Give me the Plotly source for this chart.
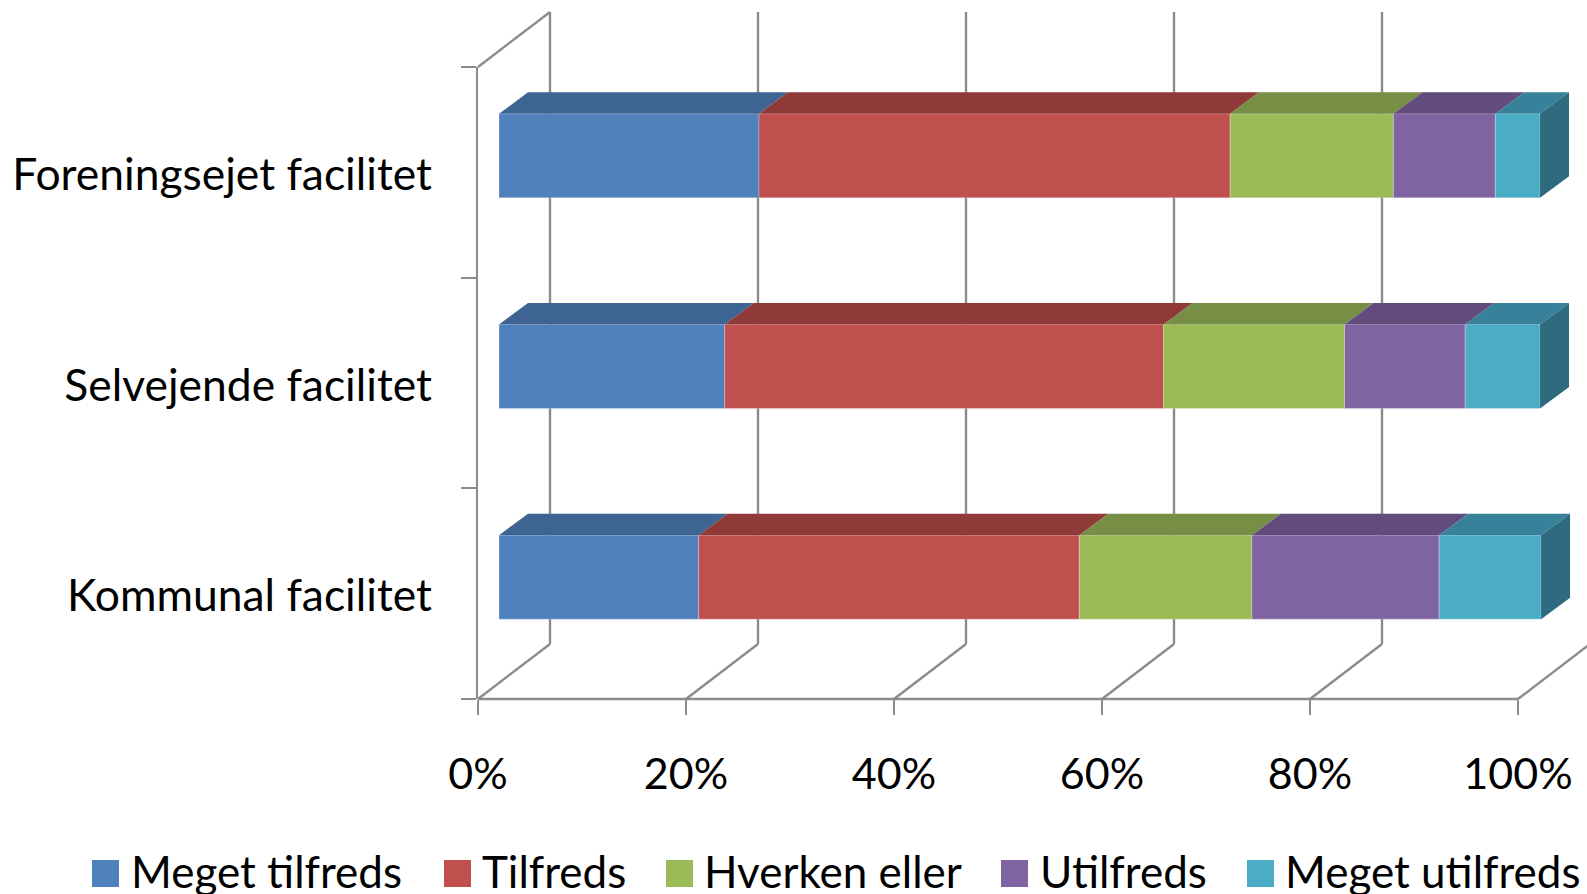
import plotly.graph_objects as go

categories = ["Kommunal facilitet", "Selvejende facilitet", "Foreningsejet facilitet"]
series_names = ["Meget tilfreds", "Tilfreds", "Hverken eller", "Utilfreds", "Meget utilfreds"]
meget_tilfreds = [19.2, 21.7, 25.0]
tilfreds = [36.6, 42.2, 45.3]
hverken_eller = [16.6, 17.4, 15.7]
utilfreds = [18.0, 11.6, 9.8]
meget_utilfreds = [9.8, 7.2, 4.3]
x_ticks = [0, 20, 40, 60, 80, 100]

series = [meget_tilfreds, tilfreds, hverken_eller, utilfreds, meget_utilfreds]
front = ["#4F81BD", "#C0504D", "#9BBB59", "#8064A2", "#4BACC6"]
top = ["#3E6491", "#8F3A38", "#778E45", "#624B7D", "#37829A"]
side_color = "#2F6B7E"
grid = "#8C8C8C"
FONT = "Lato"
FS = 44

W, H = 1587, 894
L, R, T, B = 478, 1518, 67, 699
PX = 100 / (R - L)          # axis units per pixel, x
PY = 3 / (B - T)            # axis units per pixel, y
XMAX = (W - L) * PX         # x axis runs on to the page edge, the 3-D depth needs the room
wall_dx, wall_dy = 72 * PX, 55 * PY      # chart depth
bar_dx, bar_dy = 21 * PX, 16.5 * PY      # bar front plane offset
deep_dx, deep_dy = 29 * PX, 21.5 * PY    # bar depth
BAR_H = 84 * PY

fig = go.Figure()
shapes, notes = [], []


def wall_line(x0, y0, x1, y1):
    shapes.append(dict(type="line", xref="paper", yref="paper", layer="below",
                       x0=x0 / XMAX, y0=y0 / 3, x1=x1 / XMAX, y1=y1 / 3,
                       line=dict(color=grid, width=2.4)))


# walls and floor
wall_line(0, 0, 100, 0)
for t in x_ticks:
    wall_line(t, 0, t + wall_dx, wall_dy)
    if t < 100:
        wall_line(t + wall_dx, wall_dy, t + wall_dx, 3 + wall_dy)
wall_line(0, 3, wall_dx, 3 + wall_dy)

ypos = [i + 0.5 + bar_dy for i in range(len(categories))]

# front faces
cum = [0.0] * len(categories)
starts = []
for name, vals, col in zip(series_names, series, front):
    starts.append(list(cum))
    fig.add_trace(go.Bar(
        y=ypos, x=vals, base=[c + bar_dx for c in cum], orientation="h", width=BAR_H, name=name,
        marker=dict(color=col, line=dict(color="rgba(255,255,255,0.25)", width=1)),
        cliponaxis=False, showlegend=False))
    cum = [c + v for c, v in zip(cum, vals)]

# top faces
for vals, st, col in zip(series, starts, top):
    xs, ys = [], []
    for y, v, s in zip(ypos, vals, st):
        a, b = s + bar_dx, s + v + bar_dx
        yt = y + BAR_H / 2
        xs += [a, b, b + deep_dx, a + deep_dx, a, None]
        ys += [yt, yt, yt + deep_dy, yt + deep_dy, yt, None]
    fig.add_trace(go.Scatter(x=xs, y=ys, mode="lines", fill="toself", fillcolor=col,
                             line=dict(width=0, color=col), cliponaxis=False,
                             showlegend=False, hoverinfo="skip"))

# right end faces
xs, ys = [], []
for y, c in zip(ypos, cum):
    b = c + bar_dx
    xs += [b, b + deep_dx, b + deep_dx, b, b, None]
    ys += [y + BAR_H / 2, y + BAR_H / 2 + deep_dy, y - BAR_H / 2 + deep_dy, y - BAR_H / 2, y + BAR_H / 2, None]
fig.add_trace(go.Scatter(x=xs, y=ys, mode="lines", fill="toself", fillcolor=side_color,
                         line=dict(width=0, color=side_color), cliponaxis=False,
                         showlegend=False, hoverinfo="skip"))

# legend
legend_sw = [92, 444, 666, 1001, 1247]
legend_tx = [131, 482, 704, 1040, 1285]
for name, col, sx, tx in zip(series_names, front, legend_sw, legend_tx):
    shapes.append(dict(type="rect", xref="paper", yref="paper",
                       x0=(sx - L) / (W - L), x1=(sx + 27 - L) / (W - L),
                       y0=(B - 887) / (B - T), y1=(B - 860) / (B - T),
                       fillcolor=col, line=dict(width=0)))
    notes.append(dict(xref="paper", yref="paper", x=(tx - L) / (W - L), y=(B - 871) / (B - T),
                      text=name, showarrow=False, xanchor="left", yanchor="middle",
                      xshift=-2, font=dict(family=FONT, size=FS, color="black")))

fig.update_layout(
    width=W, height=H, margin=dict(l=L, r=0, t=T, b=H - B, pad=0),
    paper_bgcolor="white", plot_bgcolor="rgba(0,0,0,0)", barmode="overlay",
    font=dict(family=FONT, size=FS, color="black"),
    shapes=shapes, annotations=notes, showlegend=False,
    xaxis=dict(range=[0, XMAX], tickvals=x_ticks, ticktext=[f"{t}%" for t in x_ticks],
               showgrid=False, zeroline=False, showline=False,
               ticks="outside", ticklen=15, tickwidth=2.4, tickcolor=grid, ticklabelstandoff=22,
               tickfont=dict(family=FONT, size=43, color="black")),
    yaxis=dict(range=[0, 3], tickvals=[i + 0.5 - 2 * PY for i in range(len(categories))], ticktext=categories,
               showgrid=False, zeroline=False, showline=True, linecolor=grid, linewidth=2.4,
               ticks="", ticklabelstandoff=35, tickfont=dict(family=FONT, size=44.4, color="black"),
               minor=dict(tickvals=[0, 1, 2, 3], ticks="outside", ticklen=15, tickwidth=2.4,
                          tickcolor=grid, showgrid=False)),
)
fig.write_html("out.html", config=dict(displayModeBar=False),
               post_script="document.body.style.margin='0';document.body.style.overflow='hidden';")
